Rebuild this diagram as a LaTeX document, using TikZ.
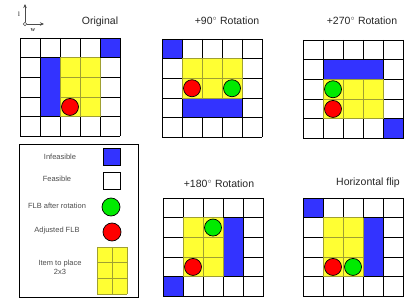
\documentclass[tikz,border=0pt]{standalone}
\usepackage{fontspec}
\setmainfont{Liberation Sans}
\newfontfamily\axisfont{Liberation Serif}
\usetikzlibrary{arrows.meta}
\usepackage{xcolor}
\definecolor{cblue}{RGB}{51,51,255}
\definecolor{cyell}{RGB}{255,255,51}
\definecolor{cline}{RGB}{160,160,50}
\definecolor{cred}{RGB}{255,0,0}
\definecolor{cgreen}{RGB}{0,235,0}

% 5x5 board: #1 top left corner, #2 contents (cells as col,row)
\newcommand{\board}[2]{%
  \begin{scope}[shift={#1}, x=20pt, y=-19.7pt]
    \foreach \k in {0,...,5} {
      \draw[line width=0.9pt] (\k,0) -- (\k,5);
      \draw[line width=0.9pt] (0,\k) -- (5,\k);
    }
    #2
  \end{scope}}
\newcommand{\blk}[4]{\draw[blk] (#1,#2) rectangle ++(#3,#4);}
\newcommand{\itemblk}[4]{%
  \fill[cyell] (#1,#2) rectangle ++(#3,#4);
  \foreach \a in {0,...,#3} \draw[cline, line width=0.7pt] (#1+\a,#2) -- ++(0,#4);
  \foreach \b in {0,...,#4} \draw[cline, line width=0.7pt] (#1,#2+\b) -- ++(#3,0);}

\begin{document}
\begin{tikzpicture}[
  x=1pt, y=-1pt,
  blk/.style={draw=black, fill=cblue, line width=0.9pt},
  flb/.style={circle, draw=black, fill=cgreen, minimum size=17pt, inner sep=0pt, line width=0.7pt},
  adj/.style={circle, draw=black, fill=cred, minimum size=17pt, inner sep=0pt, line width=0.7pt},
  ttl/.style={font=\fontsize{10.5}{12}\selectfont, text=black!85},
  lgd/.style={font=\fontsize{7.5}{9}\selectfont, text=black!70, align=center},
]
\useasboundingbox (0,0) rectangle (415,299);

% axes
\node[circle, draw=black!70, fill=white, inner sep=1.2pt, line width=0.6pt] (ax) at (25,24) {};
\coordinate (axUp) at (25,4);
\coordinate (axRt) at (44,24);
\draw[black!70, line width=0.7pt, -{Stealth[length=4pt,width=3.5pt]}] (ax) -- (axUp);
\draw[black!70, line width=0.7pt, -{Stealth[length=4pt,width=3.5pt]}] (ax) -- (axRt);
\node[font=\axisfont\fontsize{6.5}{7}\selectfont] (axL) at (19,14) {l};
\node[font=\axisfont\fontsize{6.5}{7}\selectfont] (axW) at (33,30) {w};

% titles
\node[ttl] (tOrig) at (100,22) {Original};
\node[ttl] (tRot90) at (227,21) {+90$^{\circ}$\ Rotation};
\node[ttl] (tRot270) at (362,21) {+270$^{\circ}$\ Rotation};
\node[ttl] (tRot180) at (219,184) {+180$^{\circ}$\ Rotation};
\node[ttl] (tFlip) at (368,183) {Horizontal flip};

% boards
\board{(20,38)}{
  \blk{4}{0}{1}{1} \blk{1}{1}{1}{3}
  \itemblk{2}{1}{2}{3}
  \node[adj] (oAdj) at (2.5,3.5) {};
}
\board{(162,39)}{
  \blk{0}{0}{1}{1} \blk{1}{3}{3}{1}
  \itemblk{1}{1}{3}{2}
  \node[adj] (aAdj) at (1.5,2.5) {};
  \node[flb] (aFlb) at (3.5,2.5) {};
}
\board{(303,40)}{
  \blk{1}{1}{3}{1} \blk{4}{4}{1}{1}
  \itemblk{1}{2}{3}{2}
  \node[flb] (bFlb) at (1.5,2.5) {};
  \node[adj] (bAdj) at (1.5,3.5) {};
}
\board{(163,198)}{
  \blk{3}{1}{1}{3} \blk{0}{4}{1}{1}
  \itemblk{1}{1}{2}{3}
  \node[flb] (cFlb) at (2.5,1.5) {};
  \node[adj] (cAdj) at (1.5,3.5) {};
}
\board{(303,198)}{
  \blk{0}{0}{1}{1} \blk{3}{1}{1}{3}
  \itemblk{1}{1}{2}{3}
  \node[adj] (dAdj) at (1.5,3.5) {};
  \node[flb] (dFlb) at (2.5,3.5) {};
}

% legend
\node[draw, line width=0.9pt, minimum width=119pt, minimum height=153pt,
      inner sep=0pt, anchor=north west] (legend) at (19,144) {};
\node[lgd] (lInf) at (60,157) {Infeasible};
\node[draw, fill=cblue, minimum size=17pt, inner sep=0pt, line width=0.8pt] (kInf) at (112,157) {};
\node[lgd] (lFea) at (57,179) {Feasible};
\node[draw, fill=white, minimum size=17pt, inner sep=0pt, line width=0.8pt] (kFea) at (112,181) {};
\node[lgd] (lFlb) at (57,206) {FLB after rotation};
\node[flb, minimum size=18pt] (kFlb) at (111,207) {};
\node[lgd] (lAdj) at (57,231) {Adjusted FLB};
\node[adj, minimum size=18pt] (kAdj) at (112,232) {};
\node[lgd] (lItm) at (60,267) {Item to place\\2x3};
\begin{scope}[shift={(97,247)}, x=15pt, y=-15.67pt]
  \itemblk{0}{0}{2}{3}
\end{scope}
\end{tikzpicture}
\end{document}
